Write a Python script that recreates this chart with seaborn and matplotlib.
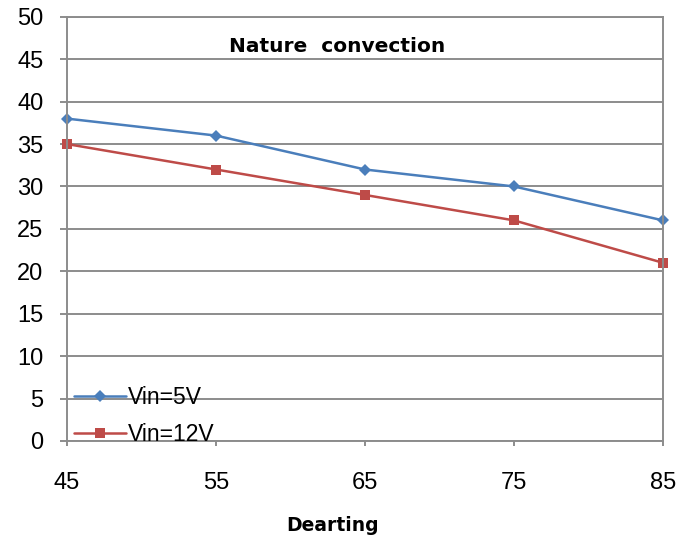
import matplotlib
matplotlib.use("Agg")
import matplotlib.pyplot as plt
import seaborn as sns
import pandas as pd

dearting = [45, 55, 65, 75, 85]
vin_5v = [38, 36, 32, 30, 26]
vin_12v = [35, 32, 29, 26, 21]
series_names = ["Vin=5V", "Vin=12V"]
y_ticks = list(range(0, 51, 5))

df = pd.DataFrame({
    "Dearting": dearting * 2,
    "value": vin_5v + vin_12v,
    "series": [series_names[0]] * len(dearting) + [series_names[1]] * len(dearting),
})

sns.set_theme(style="white")
plt.rcParams["font.family"] = ["Liberation Sans", "DejaVu Sans"]
plt.rcParams["text.color"] = "black"
plt.rcParams["xtick.color"] = "black"
plt.rcParams["ytick.color"] = "black"

fig = plt.figure(figsize=(6.91, 5.43), dpi=100)
ax = fig.add_axes([0.097, 0.188, 0.8625, 0.781])

palette = {"Vin=5V": "#4A7EBB", "Vin=12V": "#BE4B48"}
sns.lineplot(data=df, x="Dearting", y="value", hue="series", style="series",
             markers={"Vin=5V": "D", "Vin=12V": "s"}, dashes=False,
             palette=palette, linewidth=1.8, markersize=7,
             markeredgewidth=0, ax=ax)
for line in ax.lines:
    line.set_clip_on(False)
    if line.get_marker() == "D":
        line.set_markersize(6)

ax.set_xlim(45, 85)
ax.set_ylim(0, 50)
ax.set_xticks(dearting)
ax.set_yticks(y_ticks)
ax.yaxis.grid(True, color="#8c8c8c", linewidth=1.4)
ax.set_axisbelow(True)
for s in ax.spines.values():
    s.set_color("#8c8c8c")
    s.set_linewidth(1.4)
ax.tick_params(axis="y", length=5, width=1.4, color="#8c8c8c", pad=12,
               labelsize=17, labelcolor="black")
ax.tick_params(axis="x", length=3.6, width=1.4, color="#8c8c8c", pad=19,
               labelsize=17, labelcolor="black")
ax.tick_params(direction="out", left=True, bottom=True)

ax.set_ylabel("")
ax.set_xlabel("Dearting", fontsize=13.5, fontweight="bold",
              family="DejaVu Sans", color="black")
ax.xaxis.set_label_coords(0.446, -0.176)
ax.text(0.454, 0.93, "Nature  convection", transform=ax.transAxes,
        ha="center", va="center", fontsize=14.5, fontweight="bold",
        family="DejaVu Sans", color="black")

leg = ax.legend(loc="lower left", frameon=False, fontsize=16.5,
                handlelength=2.25, handletextpad=0.1, labelspacing=0.62,
                borderpad=0.0, borderaxespad=0.0,
                bbox_to_anchor=(0.012, -0.012))
for t in leg.get_texts():
    t.set_color("black")

fig.savefig("out.png", dpi=100, facecolor="white")
